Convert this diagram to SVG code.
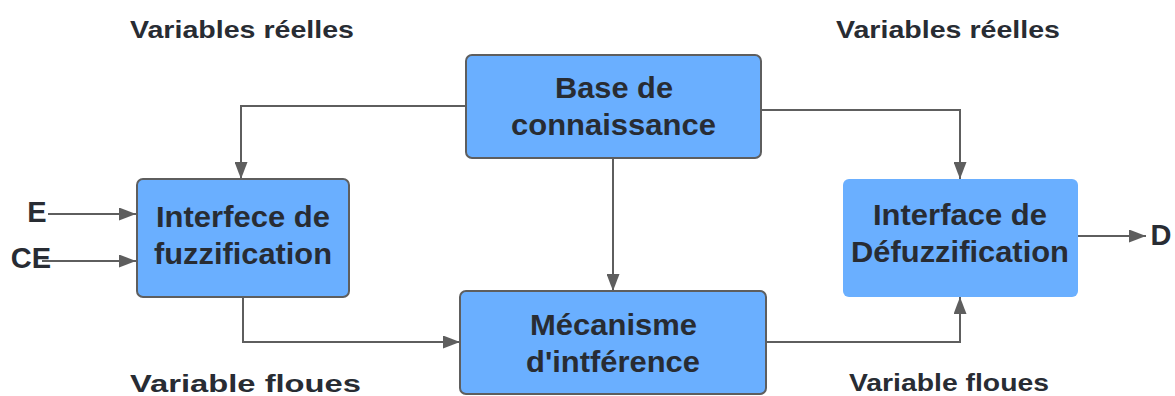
<svg xmlns="http://www.w3.org/2000/svg" width="1175" height="396" viewBox="0 0 1175 396">
<style>
.box{fill:#6aafff;stroke:#5e5e5e;stroke-width:2}
.nobox{fill:#6aafff}
.t{font-family:"Liberation Sans",Arial,sans-serif;font-weight:bold;font-size:29px;fill:#282c33;text-anchor:middle}
.l{font-family:"Liberation Sans",Arial,sans-serif;font-weight:bold;font-size:24px;fill:#282c33;text-anchor:middle}
.c{fill:none;stroke:#5e5e5e;stroke-width:2}
</style>
<defs>
<marker id="a" viewBox="0 0 17 13" refX="17" refY="6.5" markerWidth="17" markerHeight="13" markerUnits="userSpaceOnUse" orient="auto">
<path d="M0,0 L17,6.5 L0,13 Z" fill="#5e5e5e"/>
</marker>
</defs>
<rect width="1175" height="396" fill="#ffffff"/>
<g id="connectors">
<path class="c" d="M466,106 H241 V179" marker-end="url(#a)"/>
<path class="c" d="M761,110 H960 V179" marker-end="url(#a)"/>
<path class="c" d="M613,158 V291" marker-end="url(#a)"/>
<path class="c" d="M243,297 V342 H460" marker-end="url(#a)"/>
<path class="c" d="M766,342 H960 V297" marker-end="url(#a)"/>
<path class="c" d="M48,214 H136" marker-end="url(#a)"/>
<path class="c" d="M42,261 H136" marker-end="url(#a)"/>
<path class="c" d="M1078,236 H1146" marker-end="url(#a)"/>
</g>
<g id="base">
<rect class="box" x="466" y="55" width="295" height="103" rx="6"/>
<text class="t" x="614" y="98" textLength="118" lengthAdjust="spacingAndGlyphs">Base de</text>
<text class="t" x="613.5" y="135" textLength="205" lengthAdjust="spacingAndGlyphs">connaissance</text>
</g>
<g id="fuzz">
<rect class="box" x="137" y="179" width="212" height="118" rx="6"/>
<text class="t" x="243" y="227" textLength="174" lengthAdjust="spacingAndGlyphs">Interfece de</text>
<text class="t" x="243" y="264" textLength="178" lengthAdjust="spacingAndGlyphs">fuzzification</text>
</g>
<g id="meca">
<rect class="box" x="460" y="291" width="306" height="103" rx="6"/>
<text class="t" x="613.5" y="335" textLength="167" lengthAdjust="spacingAndGlyphs">Mécanisme</text>
<text class="t" x="613" y="372" textLength="174" lengthAdjust="spacingAndGlyphs">d'intférence</text>
</g>
<g id="defuzz">
<rect class="nobox" x="843" y="179" width="235" height="118" rx="6"/>
<text class="t" x="960" y="225" textLength="174" lengthAdjust="spacingAndGlyphs">Interface de</text>
<text class="t" x="960" y="262" textLength="218" lengthAdjust="spacingAndGlyphs">Défuzzification</text>
</g>
<g id="labels">
<text class="l" x="242" y="38" textLength="224" lengthAdjust="spacingAndGlyphs">Variables réelles</text>
<text class="l" x="948" y="38" textLength="224" lengthAdjust="spacingAndGlyphs">Variables réelles</text>
<text class="l" x="245.5" y="392" font-size="26" textLength="231" lengthAdjust="spacingAndGlyphs">Variable floues</text>
<text class="l" x="949" y="391" textLength="200" lengthAdjust="spacingAndGlyphs">Variable floues</text>
<text class="t" x="37" y="222">E</text>
<text class="t" x="31" y="268">CE</text>
<text class="t" x="1161" y="245">D</text>
</g>
</svg>
